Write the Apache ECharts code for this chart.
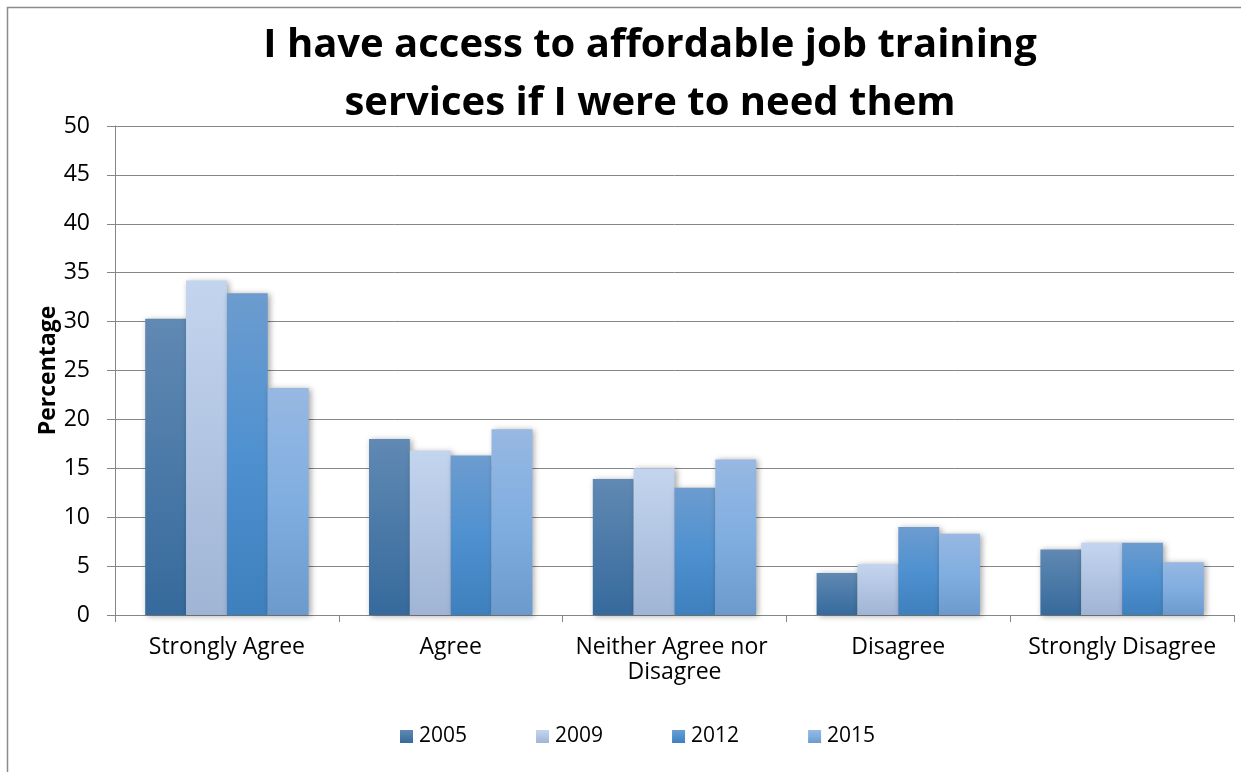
<!DOCTYPE html>
<html>
<head>
<meta charset="utf-8">
<script src="https://cdn.jsdelivr.net/npm/echarts@6/dist/echarts.min.js"></script>
<style>
  html, body { margin: 0; padding: 0; background: #fff; }
  #chart { width: 1241px; height: 772px; }
</style>
</head>
<body>
<div id="chart"></div>
<script>
// Survey responses, percentage by year
const categories = ['Strongly Agree', 'Agree', 'Neither Agree nor Disagree', 'Disagree', 'Strongly Disagree'];
const years = ['2005', '2009', '2012', '2015'];
const values2005 = [30.3, 18.0, 13.9, 4.3, 6.7];
const values2009 = [34.2, 16.8, 15.0, 5.2, 7.4];
const values2012 = [32.9, 16.3, 13.0, 9.0, 7.4];
const values2015 = [23.2, 19.0, 15.9, 8.3, 5.4];
const yTicks = [0, 5, 10, 15, 20, 25, 30, 35, 40, 45, 50];

const FONT = '"Open Sans", "Noto Sans", sans-serif';

function grad(stops) {
  return new echarts.graphic.LinearGradient(0, 0, 0, 1,
    stops.map(([o, c]) => ({ offset: o, color: c })));
}

const fills = [
  grad([[0, '#6089b3'], [1, '#366a9c']]),
  grad([[0, '#c3d5ee'], [1, '#a0b4d5']]),
  grad([[0, '#6c9ccf'], [0.5, '#4f91d0'], [1, '#3e7fbe']]),
  grad([[0, '#97b8e2'], [0.5, '#80aee0'], [1, '#6d9acd']])
];

const seriesValues = [values2005, values2009, values2012, values2015];

const chart = echarts.init(document.getElementById('chart'), null, { renderer: 'canvas' });

chart.setOption({
  backgroundColor: '#ffffff',
  animation: false,
  title: {
    text: 'I have access to affordable job training\nservices if I were to need them',
    left: 645,
    textAlign: 'center',
    top: 12,
    textStyle: {
      fontFamily: FONT,
      fontWeight: 'bold',
      fontSize: 40,
      lineHeight: 58,
      color: '#000'
    }
  },
  graphic: [{
    type: 'rect',
    shape: { x: 7.5, y: 7.5, width: 1260, height: 800 },
    style: { fill: 'none', stroke: '#8c8c8c', lineWidth: 1.5 },
    silent: true,
    z: -1
  }],
  legend: {
    data: years,
    bottom: 20,
    left: 395,
    itemWidth: 13,
    itemHeight: 13,
    itemGap: 69,
    icon: 'rect',
    textStyle: { fontFamily: FONT, fontSize: 21, color: '#000', padding: [0, 0, 0, 1] }
  },
  grid: { left: 115, right: 7, top: 126, bottom: 157, containLabel: false },
  xAxis: {
    type: 'category',
    data: categories,
    axisLine: { lineStyle: { color: '#868686', width: 1 } },
    axisTick: { show: true, length: 7, lineStyle: { color: '#868686' } },
    axisLabel: {
      fontFamily: FONT,
      fontSize: 23,
      color: '#000',
      margin: 20,
      lineHeight: 25,
      width: 215,
      overflow: 'break',
      interval: 0
    }
  },
  yAxis: {
    type: 'value',
    min: yTicks[0],
    max: yTicks[yTicks.length - 1],
    interval: 5,
    name: 'Percentage',
    nameLocation: 'middle',
    nameGap: 55,
    nameMoveOverlap: false,
    nameRotate: 90,
    nameTextStyle: { fontFamily: FONT, fontWeight: 'bold', fontSize: 23, color: '#000' },
    axisLine: { show: true, lineStyle: { color: '#868686', width: 1 } },
    axisTick: { show: true, length: 8, lineStyle: { color: '#868686' } },
    splitLine: { show: true, lineStyle: { color: '#868686', width: 1 } },
    axisLabel: { fontFamily: FONT, fontSize: 23, color: '#000', margin: 25 }
  },
  series: years.map((y, i) => ({
    name: y,
    type: 'bar',
    data: seriesValues[i],
    barGap: '0%',
    barCategoryGap: '27%',
    itemStyle: {
      color: fills[i],
      shadowColor: 'rgba(0,0,0,0.35)',
      shadowBlur: 6,
      shadowOffsetX: 2,
      shadowOffsetY: 1
    }
  }))
});
</script>
</body>
</html>
